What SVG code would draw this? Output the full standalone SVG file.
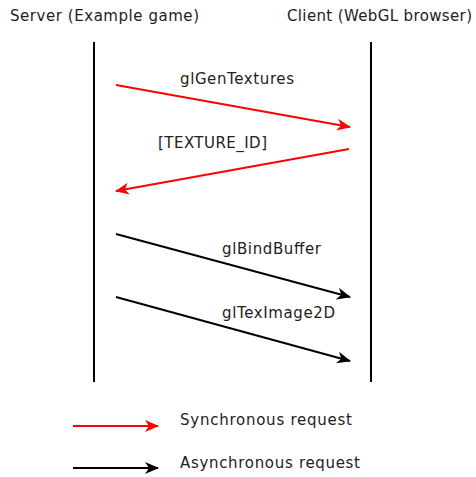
<svg xmlns="http://www.w3.org/2000/svg" width="476" height="477" viewBox="0 0 476 477">
<style>
text{font-family:"DejaVu Sans",sans-serif;font-size:15px;fill:#222}
.life{stroke:#000;stroke-width:2;fill:none}
.sync{stroke:#f00;stroke-width:2;fill:none}
.async{stroke:#000;stroke-width:2;fill:none}
</style>
<defs>
<marker id="ar" viewBox="0 0 14 12" refX="13" refY="6" markerWidth="14" markerHeight="12" markerUnits="userSpaceOnUse" orient="auto"><path d="M0,0 L14,6 L0,12 L4,6 z" fill="#f00"/></marker>
<marker id="ab" viewBox="0 0 14 12" refX="13" refY="6" markerWidth="14" markerHeight="12" markerUnits="userSpaceOnUse" orient="auto"><path d="M0,0 L14,6 L0,12 L4,6 z" fill="#000"/></marker>
</defs>
<g id="server"><text x="10" y="21" textLength="189">Server (Example game)</text><line class="life" x1="94" y1="42" x2="94" y2="382"/></g>
<g id="client"><text x="287" y="21" textLength="185">Client (WebGL browser)</text><line class="life" x1="371" y1="42" x2="371" y2="382"/></g>
<g id="connectors">
<line class="sync" x1="116" y1="85" x2="350" y2="127" marker-end="url(#ar)"/>
<line class="sync" x1="349" y1="149" x2="116" y2="191" marker-end="url(#ar)"/>
<line class="async" x1="116" y1="234" x2="350" y2="297" marker-end="url(#ab)"/>
<line class="async" x1="116" y1="297" x2="350" y2="361" marker-end="url(#ab)"/>
</g>
<g id="labels">
<text x="180" y="84" textLength="114">glGenTextures</text>
<text x="158" y="148" textLength="109">[TEXTURE_ID]</text>
<text x="222" y="254" textLength="99">glBindBuffer</text>
<text x="222" y="318" textLength="113">glTexImage2D</text>
</g>
<g id="legend">
<line class="sync" x1="73" y1="426" x2="158" y2="426" marker-end="url(#ar)"/>
<line class="async" x1="73" y1="468" x2="158" y2="468" marker-end="url(#ab)"/>
<text x="180" y="425" textLength="172">Synchronous request</text>
<text x="180" y="468" textLength="180">Asynchronous request</text>
</g>
</svg>
